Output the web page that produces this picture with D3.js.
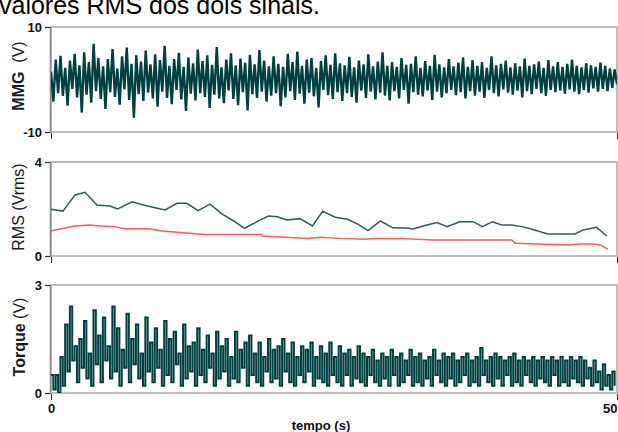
<!DOCTYPE html>
<html>
<head>
<meta charset="utf-8">
<script src="https://cdn.jsdelivr.net/npm/d3@7"></script>
<style>
  body { margin: 0; background: #fff; }
  svg { display: block; font-family: Arial, "Liberation Sans", sans-serif; }
</style>
</head>
<body>
<div id="chart"></div>
<script>
// MMG signal (V), evenly spaced over 0..50 s
const mmgValues = [
  1.5,-4.2,3.8,-2.6,4.5,-3.1,2.2,-5.0,3.6,-1.8,4.9,-3.4,
  2.7,-6.3,5.2,-2.9,3.3,-4.4,6.8,-2.2,4.1,-3.7,2.5,-5.6,
  3.9,-2.4,5.8,-3.3,2.1,-4.8,4.4,-1.9,6.1,-3.9,3.0,-7.3,
  4.6,-2.8,3.4,-4.1,5.5,-2.5,2.9,-3.6,4.8,-5.2,3.7,-2.3,
  6.4,-3.5,2.6,-4.7,3.9,-2.0,5.1,-3.8,2.4,-6.0,4.2,-2.7,
  3.1,-4.0,5.7,-2.6,3.5,-3.3,4.6,-5.4,2.8,-2.9,6.2,-3.6,
  2.3,-4.5,3.8,-2.1,5.0,-3.7,2.7,-4.9,4.0,-2.4,3.2,-5.9,
  4.7,-2.8,2.9,-3.5,5.6,-2.3,3.6,-4.2,2.5,-3.1,4.4,-2.6,
  3.0,-5.1,2.4,-3.4,4.9,-2.2,3.3,-3.9,5.3,-2.7,2.6,-4.6,
  3.8,-2.5,4.1,-3.2,2.2,-5.3,3.5,-2.0,4.6,-3.0,2.8,-3.7,
  5.0,-2.4,3.1,-4.1,2.7,-2.6,4.3,-3.3,2.3,-4.4,3.6,-2.1,
  2.9,-3.5,4.8,-2.3,2.5,-3.8,3.4,-2.5,5.2,-3.1,2.6,-4.0,
  3.3,-2.2,2.4,-3.6,4.1,-2.0,2.8,-4.6,3.0,-2.4,4.4,-2.9,
  2.2,-3.2,3.5,-2.1,2.6,-3.9,4.7,-2.3,2.9,-3.4,2.3,-2.6,
  3.9,-2.0,2.5,-3.0,3.2,-2.4,4.2,-3.6,2.4,-2.2,3.7,-3.1,
  2.6,-2.3,3.3,-3.5,2.2,-2.0,4.4,-2.6,2.7,-3.2,3.0,-1.9,
  3.6,-2.5,2.3,-2.9,3.1,-2.1,2.5,-3.4,4.0,-2.2,2.6,-2.8,
  2.9,-1.8,3.4,-2.6,2.2,-3.1,3.7,-2.0,2.5,-2.4,3.3,-2.1,
  2.4,-2.7,3.0,-1.9,3.8,-2.3,2.6,-2.8,2.3,-2.0,3.1,-2.5,
  2.7,-1.7,2.4,-2.3,3.2,-1.8,2.6,-2.2,2.1,-1.6,1.9,-0.9
];

// RMS of MMG (dark line)
const rmsMmgTime = [0,1.06,2.12,3.0,4.06,5.2,5.9,7.16,8.13,10.07,11.13,12.0,13.0,14.05,15.1,16.1,17.1,18.2,19.2,20.0,20.85,22.0,23.1,24.0,25.1,26.2,27.1,28.0,29.1,30.2,31.4,32.0,33.2,34.1,35.0,36.1,37.3,38.1,39.0,39.8,40.7,41.6,42.5,43.9,46.3,47.0,48.2,49.1];
const rmsMmgValues = [1.99,1.91,2.60,2.71,2.17,2.13,2.0,2.31,2.17,1.96,2.24,2.24,1.93,2.21,1.79,1.50,1.18,1.46,1.70,1.67,1.53,1.59,1.28,1.91,1.65,1.56,1.36,1.08,1.49,1.20,1.19,1.15,1.32,1.42,1.25,1.46,1.46,1.25,1.46,1.32,1.32,1.25,1.14,0.94,0.94,1.11,1.22,0.85];

// RMS of torque (red line)
const rmsTorqueTime = [0,0.8,2.1,3.4,4.3,5.6,6.5,8.7,9.8,11.7,13.6,18.6,18.7,20.7,22.7,23.8,25.5,27.7,28.6,30.7,33.7,40.7,41.0,45.7,46.7,47.9,48.5,49.2];
const rmsTorqueValues = [1.06,1.15,1.28,1.32,1.28,1.25,1.16,1.16,1.06,0.99,0.92,0.92,0.85,0.80,0.75,0.80,0.75,0.71,0.75,0.75,0.68,0.68,0.54,0.47,0.51,0.51,0.47,0.29];

// Torque signal (V), evenly spaced over 0..50 s
const torqueValues = [
  0.5,0.1,0.5,0.0,1.0,0.2,1.9,0.6,2.4,0.9,1.3,0.3,
  1.5,0.7,2.0,0.4,1.1,0.2,2.3,0.8,1.6,0.3,2.1,0.9,
  1.3,0.4,2.4,0.6,1.8,0.2,1.2,0.7,2.2,0.3,1.5,0.8,
  1.9,0.4,1.1,0.2,2.1,0.6,1.4,0.3,1.8,0.7,1.2,0.2,
  2.0,0.5,1.5,0.3,1.7,0.8,1.1,0.2,1.9,0.4,1.3,0.6,
  1.4,0.2,1.8,0.5,1.2,0.3,1.6,0.7,1.1,0.2,1.7,0.4,
  1.3,0.6,1.5,0.2,1.0,0.4,1.7,0.3,1.2,0.7,1.4,0.2,
  1.6,0.5,1.1,0.3,1.4,0.2,1.0,0.6,1.5,0.3,1.2,0.4,
  1.3,0.2,1.5,0.6,1.1,0.3,1.4,0.2,1.0,0.5,1.3,0.3,
  1.2,0.6,1.4,0.2,1.0,0.4,1.3,0.3,1.1,0.2,1.4,0.5,
  1.0,0.3,1.3,0.2,1.1,0.5,1.2,0.2,1.0,0.4,1.3,0.3,
  1.1,0.2,1.0,0.5,1.2,0.3,0.9,0.2,1.1,0.4,1.0,0.2,
  1.2,0.5,1.0,0.2,1.1,0.3,0.9,0.5,1.2,0.2,1.0,0.3,
  1.1,0.2,0.9,0.4,1.0,0.2,1.2,0.5,0.9,0.3,1.1,0.2,
  1.0,0.4,1.1,0.2,0.9,0.3,1.0,0.5,1.1,0.2,0.9,0.3,
  1.0,0.2,1.25,0.5,0.9,0.3,1.0,0.2,1.1,0.4,1.0,0.2,
  0.9,0.5,1.0,0.2,1.1,0.3,0.9,0.2,1.0,0.5,0.9,0.3,
  1.0,0.2,0.9,0.4,1.0,0.3,0.9,0.2,1.0,0.5,0.9,0.2,
  1.0,0.3,0.9,0.2,1.0,0.4,0.9,0.3,1.0,0.2,0.9,0.4,
  0.7,0.2,0.9,0.3,0.6,0.1,0.8,0.2,0.5,0.1,0.6,0.2
];

const xDomain = [0, 50];
const xTickLabels = ["0", "50"];
const titleText = "valores RMS dos dois sinais.";
const xLabel = "tempo (s)";

const width = 618, height = 432;
const left = 51, right = 617;
const darkTeal = "#004040";
const rmsDark = "#2f5c5c";
const rmsRed = "#ff5a5a";

const svg = d3.select("#chart").append("svg")
  .attr("width", width)
  .attr("height", height);

svg.append("text")
  .attr("x", -1).attr("y", 14)
  .attr("font-size", 25)
  .attr("fill", "#000")
  .text(titleText);

const x = d3.scaleLinear().domain(xDomain).range([left, right]);

const panels = [
  { id: "mmg", top: 27, bottom: 132, domain: [-10, 10], ticks: ["10", "-10"], name: "MMG", unit: "  (V)", nameBold: true, labelY: 76, labelX: 18 },
  { id: "rms", top: 162, bottom: 256, domain: [0, 4], ticks: ["4", "0"], name: "RMS", unit: " (Vrms)", nameBold: false, labelY: 207, labelX: 18 },
  { id: "tq", top: 285, bottom: 393, domain: [0, 3], ticks: ["3", "0"], name: "Torque", unit: " (V)", nameBold: true, labelY: 337, labelX: 19 }
];

panels.forEach((p, i) => {
  p.y = d3.scaleLinear().domain(p.domain).range([p.bottom, p.top]);

  svg.append("clipPath").attr("id", "clip-" + p.id)
    .append("rect")
    .attr("x", left).attr("y", p.top)
    .attr("width", right - left).attr("height", p.bottom - p.top);

  // frame
  svg.append("rect")
    .attr("x", left).attr("y", p.top)
    .attr("width", right - left).attr("height", p.bottom - p.top)
    .attr("fill", "none")
    .attr("stroke", "#a8a8a8")
    .attr("stroke-width", 1.5);

  // left axis: only end ticks
  const yAxis = svg.append("g")
    .attr("transform", "translate(" + (left - 1) + ",0)")
    .call(d3.axisLeft(p.y).tickValues([p.domain[1], p.domain[0]])
      .tickFormat((d, j) => p.ticks[j]).tickSize(5).tickPadding(3));
  yAxis.select(".domain").attr("stroke", "#8a8a8a").attr("stroke-width", 1.5);
  yAxis.selectAll(".tick line").attr("stroke", "#333");
  yAxis.selectAll(".tick text")
    .attr("font-family", "Arial, 'Liberation Sans', sans-serif")
    .attr("font-size", 13).attr("font-weight", "bold").attr("fill", "#111");

  // bottom ticks
  const xAxis = svg.append("g")
    .attr("transform", "translate(0," + (p.bottom + 1) + ")")
    .call(d3.axisBottom(x).tickValues(xDomain)
      .tickFormat((d, j) => i === panels.length - 1 ? xTickLabels[j] : "")
      .tickSize(6).tickPadding(4));
  xAxis.select(".domain").remove();
  xAxis.selectAll(".tick line").attr("stroke", "#333");
  xAxis.selectAll(".tick text")
    .attr("font-family", "Arial, 'Liberation Sans', sans-serif")
    .attr("font-size", 13).attr("font-weight", "bold").attr("fill", "#111");
  xAxis.selectAll(".tick").filter(d => d === xDomain[1]).select("text")
    .attr("text-anchor", "end").attr("dx", 0);

  // rotated y label
  const lab = svg.append("text")
    .attr("transform", "translate(" + p.labelX + "," + p.labelY + ") rotate(-90)")
    .attr("text-anchor", "middle")
    .attr("dy", "0.35em")
    .attr("font-size", 16)
    .attr("fill", "#1a1a24");
  lab.append("tspan").attr("font-weight", p.nameBold ? "bold" : "normal").text(p.name);
  lab.append("tspan").attr("xml:space", "preserve").style("white-space", "pre").text(p.unit);
});

// MMG
const pm = panels[0];
const mmgStep = (xDomain[1] - xDomain[0]) / (mmgValues.length - 1);
svg.append("path")
  .datum(mmgValues)
  .attr("clip-path", "url(#clip-mmg)")
  .attr("fill", "none")
  .attr("stroke", darkTeal)
  .attr("stroke-width", 2.4)
  .attr("stroke-linejoin", "miter")
  .attr("d", d3.line()
    .x((d, i) => x(i * mmgStep))
    .y(d => pm.y(d)));

// RMS
const pr = panels[1];
svg.append("path")
  .datum(rmsTorqueValues)
  .attr("fill", "none")
  .attr("stroke", rmsRed)
  .attr("stroke-width", 1.5)
  .attr("d", d3.line()
    .x((d, i) => x(rmsTorqueTime[i]))
    .y(d => pr.y(d)));
svg.append("path")
  .datum(rmsMmgValues)
  .attr("fill", "none")
  .attr("stroke", rmsDark)
  .attr("stroke-width", 1.5)
  .attr("d", d3.line()
    .x((d, i) => x(rmsMmgTime[i]))
    .y(d => pr.y(d)));

// Torque
const pt = panels[2];
const tqStep = (xDomain[1] - xDomain[0]) / torqueValues.length;
svg.append("path")
  .datum(torqueValues)
  .attr("clip-path", "url(#clip-tq)")
  .attr("fill", "none")
  .attr("stroke", darkTeal)
  .attr("stroke-width", 2)
  .attr("d", d3.line()
    .curve(d3.curveStepAfter)
    .x((d, i) => x(i * tqStep))
    .y(d => pt.y(d)));

svg.append("text")
  .attr("x", 321).attr("y", 430)
  .attr("text-anchor", "middle")
  .attr("font-size", 13)
  .attr("font-weight", "bold")
  .attr("fill", "#111")
  .text(xLabel);
</script>
</body>
</html>
